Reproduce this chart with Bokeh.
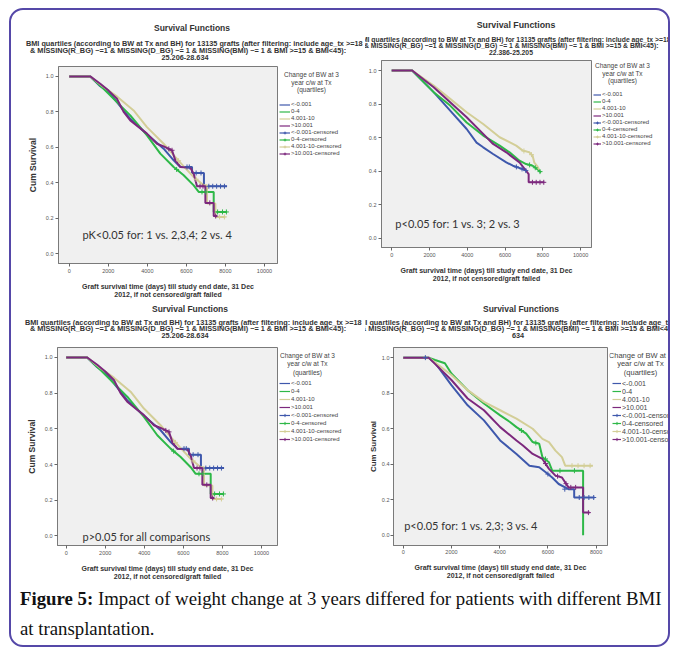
import html
from bokeh.plotting import figure
from bokeh.models import Range1d, FixedTicker, Label, Legend, LegendItem, Div, PrintfTickFormatter
from bokeh.layouts import row, column
from bokeh.embed import file_html
from bokeh.resources import INLINE

# ---------------- data ----------------
GROUPS = ["<-0.001", "0-4", "4.001-10", ">10.001"]
CENSORED = ["<-0.001-censored", "0-4-censored", "4.001-10-censored", ">10.001-censored"]
COLORS = ["#3E58AC", "#2EB848", "#D3CE97", "#7C287D"]
X_TICKS_WIDE = [0, 2000, 4000, 6000, 8000, 10000]
X_TICKS_NARROW = [0, 2000, 4000, 6000, 8000]
Y_TICKS = [0.0, 0.2, 0.4, 0.6, 0.8, 1.0]

# BMI 25.206-28.634 (top-left and bottom-left)
A_t1 = [0, 1077, 1589, 2017, 2444, 3127, 3982, 4836, 5349, 5691, 6290, 6290, 6900, 6900, 8084]
A_s1 = [1.0, 1.0, 0.945, 0.912, 0.855, 0.761, 0.673, 0.592, 0.526, 0.489, 0.489, 0.455, 0.455, 0.380, 0.380]
A_t2 = [0, 1077, 1760, 2444, 3127, 3982, 4666, 5349, 5862, 6375, 6631, 7400, 7400, 8084]
A_s2 = [1.0, 1.0, 0.930, 0.855, 0.780, 0.667, 0.564, 0.489, 0.442, 0.385, 0.348, 0.348, 0.235, 0.235]
A_t3 = [0, 1077, 1760, 2444, 3298, 3982, 4836, 5349, 5862, 6375, 6887, 7058, 7058, 7486, 7486, 7998]
A_s3 = [1.0, 1.0, 0.940, 0.887, 0.808, 0.714, 0.620, 0.555, 0.492, 0.432, 0.385, 0.385, 0.282, 0.282, 0.207, 0.207]
A_t4 = [0, 1077, 1589, 2017, 2444, 2786, 3127, 3982, 4495, 4836, 5264, 5435, 5691, 6204, 6375, 6545, 6973, 6973, 7400, 7400, 7571]
A_s4 = [1.0, 1.0, 0.959, 0.920, 0.874, 0.800, 0.752, 0.677, 0.620, 0.605, 0.583, 0.526, 0.489, 0.485, 0.451, 0.380, 0.380, 0.286, 0.286, 0.212, 0.212]
A_c1_t = [6033, 6150, 6500, 6750, 7150, 7350, 7550, 7750, 7950]
A_c1_s = [0.489, 0.489, 0.455, 0.455, 0.380, 0.380, 0.380, 0.380, 0.380]
A_c2_t = [5500, 6800, 7000, 7600, 7850, 8050]
A_c2_s = [0.475, 0.348, 0.348, 0.235, 0.235, 0.235]
A_c3_t = [5600, 6500, 7700, 7950]
A_c3_s = [0.524, 0.420, 0.207, 0.207]
A_c4_t = [5100, 5264, 6700, 6850, 7200, 7500]
A_c4_s = [0.591, 0.583, 0.380, 0.380, 0.286, 0.212]

# BMI 22.386-25.205 (top-right)
B_t1 = [0, 1084, 2220, 3094, 3968, 4492, 4842, 5366, 6066, 6415, 6940, 7150]
B_s1 = [1.0, 1.0, 0.871, 0.761, 0.651, 0.570, 0.542, 0.502, 0.452, 0.432, 0.412, 0.402]
B_t2 = [0, 1084, 2220, 3094, 3968, 4842, 5716, 6240, 6765, 7114, 7464, 7813, 7901]
B_s2 = [1.0, 1.0, 0.871, 0.791, 0.690, 0.612, 0.552, 0.512, 0.462, 0.442, 0.432, 0.402, 0.392]
B_t3 = [0, 1084, 2220, 3094, 3968, 4842, 5716, 6590, 6940, 7289, 7464, 7550, 7700, 7800]
B_s3 = [1.0, 1.0, 0.910, 0.831, 0.751, 0.681, 0.602, 0.552, 0.522, 0.512, 0.490, 0.450, 0.430, 0.410]
B_t4 = [0, 1084, 2220, 3094, 3968, 4842, 5366, 6066, 6415, 6765, 7114, 7250, 7250, 8076]
B_s4 = [1.0, 1.0, 0.900, 0.811, 0.721, 0.622, 0.562, 0.512, 0.482, 0.452, 0.402, 0.382, 0.333, 0.333]
B_c1_t = [6600, 6900, 7100]
B_c1_s = [0.425, 0.413, 0.403]
B_c2_t = [7300, 7600, 7850]
B_c2_s = [0.437, 0.420, 0.397]
B_c3_t = [7000, 7400]
B_c3_s = [0.520, 0.498]
B_c4_t = [7450, 7650, 7850, 8050]
B_c4_s = [0.333, 0.333, 0.333, 0.333]

# highest BMI group (bottom-right)
C_t1 = [0, 1052, 1322, 1997, 2671, 3346, 4020, 4695, 5234, 5639, 5909, 6178, 6448, 6853, 7090, 7090, 7932]
C_s1 = [1.0, 1.0, 0.970, 0.845, 0.732, 0.647, 0.534, 0.458, 0.392, 0.383, 0.355, 0.326, 0.289, 0.260, 0.260, 0.213, 0.213]
C_t2 = [0, 1052, 1322, 1727, 1997, 2671, 3346, 4020, 4425, 4695, 5099, 5369, 5639, 5774, 6044, 6178, 7460, 7460]
C_s2 = [1.0, 1.0, 0.987, 0.968, 0.911, 0.817, 0.742, 0.675, 0.638, 0.609, 0.572, 0.525, 0.515, 0.440, 0.411, 0.364, 0.364, 0.0]
C_t3 = [0, 1052, 1997, 2671, 3346, 4020, 4695, 5369, 5774, 6044, 6313, 6583, 6718, 7865]
C_s3 = [1.0, 1.0, 0.902, 0.817, 0.751, 0.704, 0.657, 0.600, 0.543, 0.525, 0.477, 0.440, 0.392, 0.392]
C_t4 = [0, 1052, 1997, 2671, 3346, 4020, 4695, 4964, 5369, 5774, 6044, 6313, 6583, 6853, 7460, 7460, 7730]
C_s4 = [1.0, 1.0, 0.874, 0.770, 0.704, 0.609, 0.534, 0.506, 0.458, 0.430, 0.374, 0.336, 0.326, 0.270, 0.270, 0.128, 0.128]
C_c1_t = [917, 6000, 6700, 7300, 7500, 7700, 7900]
C_c1_s = [1.0, 0.345, 0.260, 0.213, 0.213, 0.213, 0.213]
C_c2_t = [4900, 5500, 5900, 6500, 7100]
C_c2_s = [0.590, 0.520, 0.430, 0.364, 0.364]
C_c3_t = [7000, 7250, 7500, 7750]
C_c3_s = [0.392, 0.392, 0.392, 0.392]
C_c4_t = [5900, 6400, 6750, 6950, 7150, 7680]
C_c4_s = [0.404, 0.333, 0.291, 0.270, 0.270, 0.128]

TITLE = "Survival Functions"
SUB1 = "BMI quartiles (according to BW at Tx and BH) for 13135 grafts (after filtering: include age_tx >=18"
SUB2 = "& MISSING(R_BG) ~=1 & MISSING(D_BG) ~= 1 & MISSING(BMI) ~= 1 & BMI >=15 & BMI<45):"
XLABEL = "Graft survival time (days) till study end date, 31 Dec\n2012, if not censored/graft failed"
LEG_TITLE = ["Change of BW at 3", "year c/w at Tx", "(quartiles)"]

FONT = "Liberation Sans"
NAN = float("nan")
LINE_H = 0.85


def title_block(ox, oy, W, h, lines):
    spans = []
    for txt, x, cy, size, mode in lines:
        top = cy - oy - 0.5 * LINE_H * size
        base = (f"position:absolute;top:{top:.1f}px;white-space:nowrap;line-height:{LINE_H};"
                f"font-family:'{FONT}',Arial,sans-serif;font-weight:bold;font-size:{size}px;color:#333;")
        if mode == "left":
            style = base + f"left:{x - ox:.1f}px;"
        else:
            style = base + f"left:{x - ox - 400:.1f}px;width:800px;text-align:center;"
        spans.append(f'<span style="{style}">{html.escape(txt)}</span>')
    inner = (f'<div style="position:relative;width:{W}px;height:{h}px;overflow:hidden;margin:0;padding:0;">'
             + "".join(spans) + "</div>")
    return Div(text=inner, width=W, height=h, margin=(0, 0, 0, 0), styles={"overflow": "hidden"})


def legend_panel(x0, width, height, mbt, mbb, T, B, leg):
    (tcx, ty0, tstep, tsize, lsize, gx, gw, rowh, ltop) = leg
    fh = height - mbt - mbb
    lf = figure(width=width, height=height, x_range=Range1d(0, width), y_range=Range1d(fh, 0),
                output_backend="svg", toolbar_location=None, x_axis_location=None,
                y_axis_location=None, min_border_left=0, min_border_right=0,
                min_border_top=mbt, min_border_bottom=mbb)
    lf.outline_line_color = None
    lf.background_fill_color = "white"
    lf.border_fill_color = "white"
    lf.grid.visible = False
    for i, txt in enumerate(LEG_TITLE):
        lf.add_layout(Label(x=tcx - x0, y=ty0 + i * tstep - T, text=txt, text_align="center",
                            text_baseline="middle", text_font=FONT, text_font_size=tsize,
                            text_color="#444444"))
    # legend proxies (a single NaN point: nothing is drawn in the plot area)
    step_rs = [lf.line(x=[NAN], y=[NAN], line_color=c, line_width=1.2) for c in COLORS]
    cens_rs = [lf.scatter(x=[NAN], y=[NAN], marker="cross", size=5, line_color=c, line_width=1)
               for c in COLORS]
    items = [LegendItem(label=g, renderers=[r]) for g, r in zip(GROUPS, step_rs)]
    items += [LegendItem(label=g, renderers=[sr, cr]) for g, sr, cr in zip(CENSORED, step_rs, cens_rs)]
    n_rows = len(items)
    bottom = ltop + n_rows * rowh
    legend = Legend(items=items, location=(gx - x0, B - bottom), orientation="vertical",
                    padding=0, margin=0, spacing=0, glyph_width=gw, glyph_height=rowh,
                    label_height=rowh, label_standoff=1, label_text_font=FONT,
                    label_text_font_size=lsize, label_text_color="#444444",
                    border_line_color=None, background_fill_alpha=0)
    lf.add_layout(legend)
    return lf


def panel(geo, th, xr, yr, xticks, curves, censors, titles, note, ylabel, leg):
    ox, oy, W, H, L, R, T, B = geo
    fy = oy + th
    Wm = R - ox + 2
    mbt = T - fy
    mbb = oy + H - B
    p = figure(width=Wm, height=H - th, x_range=Range1d(*xr), y_range=Range1d(*yr),
               output_backend="svg", toolbar_location=None,
               min_border_left=L - ox, min_border_right=2,
               min_border_top=mbt, min_border_bottom=mbb)
    p.background_fill_color = "#F0F0F0"
    p.border_fill_color = "white"
    p.outline_line_color = "#7a7a7a"
    p.grid.visible = False

    def dx(px):
        return xr[0] + (px - L) / (R - L) * (xr[1] - xr[0])

    def dy(py):
        return yr[1] - (py - T) / (B - T) * (yr[1] - yr[0])

    for (t, s), c in zip(curves, COLORS):
        p.line(t, s, line_color=c, line_width=2)
    for (t, s), c in zip(censors, COLORS):
        p.scatter(t, s, marker="cross", size=5, line_color=c, line_width=1)

    ylab_size, ylab_standoff, tick_standoff = ylabel
    for ax in (p.xaxis[0], p.yaxis[0]):
        ax.axis_line_color = "#7a7a7a"
        ax.major_tick_line_color = "#666666"
        ax.major_tick_out = 3
        ax.major_tick_in = 0
        ax.minor_tick_line_color = None
        ax.major_label_text_font = FONT
        ax.major_label_text_font_size = "5.5px"
        ax.major_label_text_color = "#555555"
        ax.major_label_standoff = tick_standoff
        ax.axis_label_text_font = FONT
        ax.axis_label_text_font_style = "bold"
        ax.axis_label_text_color = "#333333"
    p.xaxis.ticker = FixedTicker(ticks=xticks)
    p.xaxis.formatter = PrintfTickFormatter(format="%d")
    p.yaxis.ticker = FixedTicker(ticks=Y_TICKS)
    p.yaxis.formatter = PrintfTickFormatter(format="%.1f")
    p.xaxis.axis_label = XLABEL
    p.xaxis.axis_label_text_font_size = "7px"
    p.xaxis.axis_label_standoff = 7
    if ylab_size:
        p.yaxis.axis_label = "Cum Survival"
        p.yaxis.axis_label_text_font_size = ylab_size
        p.yaxis.axis_label_standoff = ylab_standoff

    ntxt, npx, npy = note
    p.add_layout(Label(x=dx(npx), y=dy(npy), text=ntxt, text_align="left", text_baseline="middle",
                       text_font="Lato", text_font_size="11px", text_color="#333333"))

    lf = legend_panel(ox + Wm, W - Wm, H - th, mbt, mbb, T, B, leg)
    return column(title_block(ox, oy, W, th, titles), row(p, lf, spacing=0), spacing=0)


A_curves = [(A_t1, A_s1), (A_t2, A_s2), (A_t3, A_s3), (A_t4, A_s4)]
A_cens = [(A_c1_t, A_c1_s), (A_c2_t, A_c2_s), (A_c3_t, A_c3_s), (A_c4_t, A_c4_s)]
B_curves = [(B_t1, B_s1), (B_t2, B_s2), (B_t3, B_s3), (B_t4, B_s4)]
B_cens = [(B_c1_t, B_c1_s), (B_c2_t, B_c2_s), (B_c3_t, B_c3_s), (B_c4_t, B_c4_s)]
C_curves = [(C_t1, C_s1), (C_t2, C_s2), (C_t3, C_s3), (C_t4, C_s4)]
C_cens = [(C_c1_t, C_c1_s), (C_c2_t, C_c2_s), (C_c3_t, C_c3_s), (C_c4_t, C_c4_s)]

# geometry (page px): block origin x, y, width, height, frame left, right, top, bottom
G_TL = (11, 10, 354, 292, 58, 277, 66, 263)
G_TR = (365, 10, 303, 292, 379, 591, 60, 247)
G_BL = (11, 302, 354, 281, 57, 277, 347, 545)
G_BR = (365, 302, 303, 281, 387, 607, 347, 545)

# legend: title centre x, first title line y, line step, title size, label size,
#         glyph left x, glyph width, row height, first row top y
p1 = panel(G_TL, 53, (-549, 10667), (-0.056, 1.056), X_TICKS_WIDE, A_curves, A_cens,
           [(TITLE, 192, 29, 8.5, "center"),
            (SUB1, 26, 44.4, 7.3, "left"),
            (SUB2, 30, 51.4, 7.3, "left"),
            ("25.206-28.634", 185, 58.2, 7.3, "center")],
           ("pK<0.05 for: 1 vs. 2,3,4; 2 vs. 4", 82, 234), ("8.5px", 5, 2),
           (311, 74, 7.5, "6.5px", "6px", 279, 11, 7, 100.5))
p2 = panel(G_TR, 47, (-541, 10577), (-0.056, 1.06), X_TICKS_WIDE, B_curves, B_cens,
           [(TITLE, 516, 26, 8.8, "center"),
            (SUB1, 357, 39.4, 6.8, "left"),
            (SUB2, 364, 46, 6.8, "left"),
            ("22.386-25.205", 511, 52.7, 6.8, "center")],
           ("p<0.05 for: 1 vs. 3; 2 vs. 3", 393, 223), (None, 0, 2),
           (622, 65, 7.5, "6.5px", "6px", 593, 8, 7, 90.5))
p3 = panel(G_BL, 39, (-444, 10820), (-0.054, 1.056), X_TICKS_WIDE, A_curves, A_cens,
           [(TITLE, 190, 309.3, 8.5, "center"),
            (SUB1, 25, 322.8, 7.3, "left"),
            (SUB2, 30, 329.5, 7.3, "left"),
            ("25.206-28.634", 185, 336.2, 7.3, "center")],
           ("p>0.05 for all comparisons", 82, 535.5), ("8.5px", 5, 2),
           (307, 355, 8.3, "6.5px", "6px", 279, 11, 8, 378.7))
p4 = panel(G_BR, 39, (-405, 8472), (-0.057, 1.057), X_TICKS_NARROW, C_curves, C_cens,
           [(TITLE, 521, 309.3, 8.5, "center"),
            (SUB1, 354, 322.8, 7.3, "left"),
            (SUB2, 361, 329.5, 7.3, "left"),
            ("634", 518, 336.2, 7.3, "center")],
           ("p<0.05 for: 1 vs. 2,3; 3 vs. 4", 398, 525), ("8px", 1, 1),
           (640, 355, 8.3, "7.5px", "7px", 612, 9, 8, 379))

caption = Div(text=('<div style="font-family:\'Liberation Serif\',\'Times New Roman\',serif;'
                    'font-size:18.8px;line-height:30px;color:#111;padding:1px 0 0 9px;margin:0;'
                    'white-space:nowrap;">'
                    '<b>Figure 5:</b> Impact of weight change at 3 years differed for patients with '
                    'different BMI<br>at transplantation.</div>'),
              width=657, height=62, margin=(0, 0, 0, 0))

layout = column(row(p1, p2), row(p3, p4), caption,
                margin=(8, 0, 0, 9),
                styles={"border": "2px solid #5548a8", "border-radius": "14px"})

open("out.html", "w").write(file_html(layout, INLINE))
